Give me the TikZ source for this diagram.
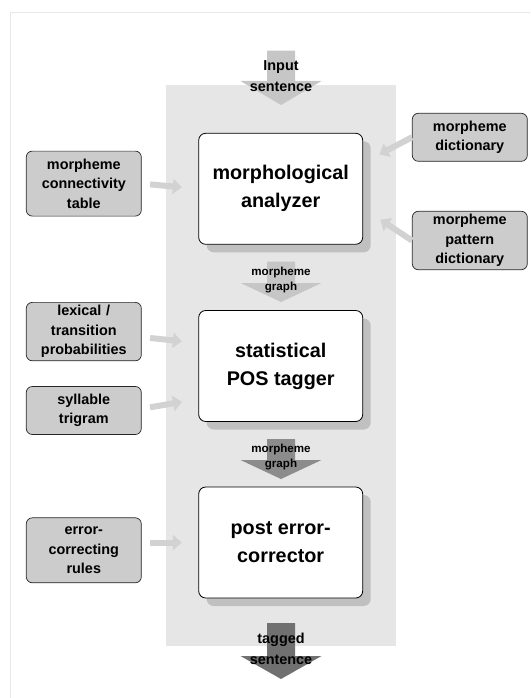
\documentclass[tikz,border=0pt]{standalone}
\usepackage{fontspec}
\setmainfont{Liberation Sans}
\usetikzlibrary{positioning,calc,arrows.meta,shadows}

\definecolor{panelgray}{HTML}{E6E6E6}
\definecolor{framegray}{HTML}{E8E8E8}
\definecolor{boxgray}{HTML}{CCCCCC}
\definecolor{shadowgray}{HTML}{C0C0C0}
\definecolor{feedgray}{HTML}{D2D2D2}
\definecolor{lightflow}{HTML}{C6C6C6}
\definecolor{midflow}{HTML}{8C8C8C}
\definecolor{darkflow}{HTML}{707070}

\tikzset{
  bigbox/.style={draw=black,fill=white,line width=0.8pt,rounded corners=7pt,
    minimum width=164pt,minimum height=111pt,align=center,
    font=\fontsize{19.8}{28}\selectfont\bfseries,
    drop shadow={shadow xshift=8pt,shadow yshift=-8pt,fill=shadowgray,opacity=1}},
  smallbox/.style={draw=black!85,fill=boxgray,line width=0.7pt,rounded corners=6pt,
    minimum width=115pt,minimum height=48pt,text width=105pt,align=center,
    inner ysep=3pt,font=\fontsize{14.4}{19.5}\selectfont\bfseries},
  flowtext/.style={align=center,inner sep=0pt,font=\fontsize{14.4}{21}\selectfont\bfseries},
  graphtext/.style={align=center,inner sep=0pt,font=\fontsize{11.6}{15}\selectfont\bfseries},
  feed/.style={draw=feedgray,line width=6pt,-{Triangle[length=9pt,width=15pt]}}
}

% wide downward arrow: top, head base, tip, colour
\newcommand{\flowarrow}[4]{%
  \fill[#4] (267,#1) -- (295,#1) -- (295,#2) -- (321.5,#2) -- (281,#3)
    -- (240.5,#2) -- (267,#2) -- cycle;}

\begin{document}
\begin{tikzpicture}[x=1pt,y=-1pt]
\useasboundingbox (0,0) rectangle (530,698);

\draw[framegray,line width=1pt] (10.8,698) -- (10.8,12.5) -- (530,12.5);
\fill[panelgray] (165.6,85) rectangle (396,646);

% main stages
\node[bigbox] (morph) at (280.7,188.8) {morphological\\analyzer};
\node[bigbox] (pos) at (280.7,366) {statistical\\POS tagger};
\node[bigbox] (post) at (280.7,542.5) {post error-\\corrector};

% resources
\node[smallbox,minimum height=65pt] (conn) at (83.8,183.6) {morpheme\\connectivity\\table};
\node[smallbox] (lexical) at (83.8,331.6) {lexical /\\transition\\probabilities};
\node[smallbox] (syllable) at (83.8,410.5) {syllable\\trigram};
\node[smallbox,minimum height=65pt] (rules) at (83.8,550.3) {error-\\correcting\\rules};
\node[smallbox] (dict) at (469.8,137.3) {morpheme\\dictionary};
\node[smallbox] (pattern) at (469.8,240.5) {morpheme\\pattern\\dictionary};

% data flow
\flowarrow{50.7}{81}{105}{lightflow}
\flowarrow{261.7}{283}{302}{lightflow}
\flowarrow{439}{460}{479}{midflow}
\flowarrow{623}{656}{679}{darkflow}
\node[flowtext] (input) at (281,76) {Input\\sentence};
\node[graphtext] (graphA) at (281,280.5) {morpheme\\graph};
\node[graphtext] (graphB) at (281,457.5) {morpheme\\graph};
\node[flowtext] (tagged) at (281,648.5) {tagged\\sentence};

\foreach \a/\b/\u/\v in {conn/morph/0/0,lexical/pos/5.5/-23,syllable/pos/-1.7/33}
	\draw[feed,shorten <=8.5pt,shorten >=16.5pt]($(\a.east)+(0,\u)$)--($(\b.west)+(0,\v)$);
\draw[feed,shorten <=8.5pt,shorten >=16.5pt](rules.east |- post.west)--(post.west);
\draw[feed,shorten >=18.3pt](dict.west)--($(morph.east)+(0,-26)$);
\draw[feed,shorten >=20.7pt](pattern.west)--($(morph.east)+(0,19.5)$);

\end{tikzpicture}
\end{document}
